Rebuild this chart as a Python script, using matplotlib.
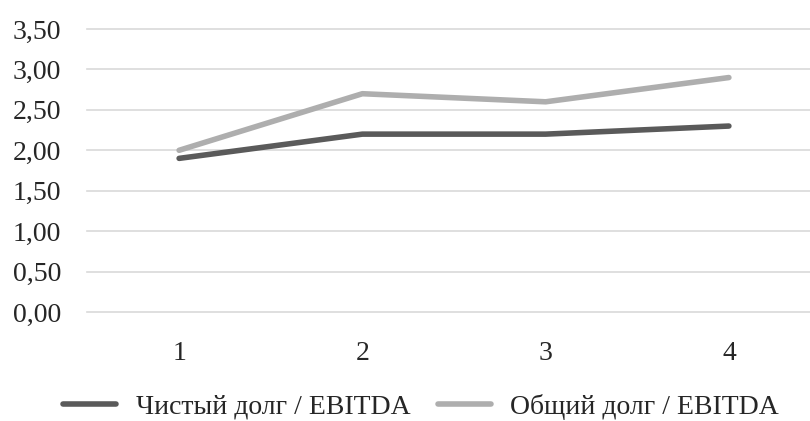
import matplotlib
matplotlib.use("Agg")
import matplotlib.pyplot as plt
from matplotlib.ticker import FuncFormatter

periods = ["1", "2", "3", "4"]
net_debt_ebitda = [1.9, 2.2, 2.2, 2.3]
total_debt_ebitda = [2.0, 2.7, 2.6, 2.9]
y_ticks = [0.0, 0.5, 1.0, 1.5, 2.0, 2.5, 3.0, 3.5]

plt.rcParams['font.family'] = ['Liberation Serif', 'DejaVu Serif']

fig = plt.figure(figsize=(8.1, 4.21), dpi=100)
ax = fig.add_axes([0.108, 0.259, 0.905, 0.672])

x = range(1, len(periods) + 1)
ax.plot(x, net_debt_ebitda, color='#5a5a5a', lw=4, solid_capstyle='round',
        label='Чистый долг / EBITDA', zorder=3)
ax.plot(x, total_debt_ebitda, color='#aeaeae', lw=4, solid_capstyle='round',
        label='Общий долг / EBITDA', zorder=3)

ax.set_xlim(0.5, 4.5)
ax.set_ylim(0, 3.5)
ax.set_xticks(list(x))
ax.set_xticklabels(periods)
ax.set_yticks(y_ticks)
ax.yaxis.set_major_formatter(FuncFormatter(lambda v, p: f"{v:.2f}".replace('.', ',')))
ax.grid(axis='y', color='#d9d9d9', lw=1.2, zorder=0)
for g in ax.get_ygridlines():
    g.set_clip_on(False)
for s in ax.spines.values():
    s.set_visible(False)
ax.tick_params(length=0, labelsize=20, colors='#262626')
ax.tick_params(axis='y', pad=19)
ax.tick_params(axis='x', pad=21)

fig.legend(loc='center', bbox_to_anchor=(0.52, 0.034), ncol=2, frameon=False,
           fontsize=20, handlelength=1.9, handletextpad=0.7, columnspacing=1.0,
           labelcolor='#262626', borderpad=0.2)

fig.savefig('out.png', dpi=100)
